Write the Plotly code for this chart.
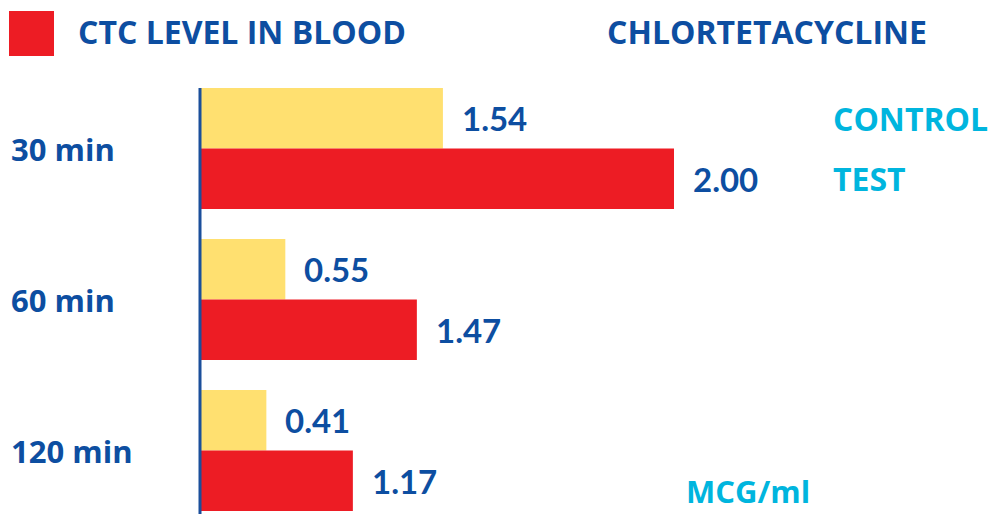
import plotly.graph_objects as go

# ---- data ----
times = ["30 min", "60 min", "120 min"]
control_values = [1.54, 0.55, 0.41]          # printed values (MCG/ml)
test_values = [2.00, 1.47, 1.17]
# drawn bar lengths as they appear in the picture (same units, 2.00 test bar as reference)
control_bar_len = [1.025, 0.36, 0.28]
test_bar_len = [2.00, 0.915, 0.645]
series_names = ["CONTROL", "TEST"]
title_left = "CTC LEVEL IN BLOOD"
title_right = "CHLORTETACYCLINE"
unit_label = "MCG/ml"

# ---- style ----
W, H = 991, 514
DARK = "#0D4EA1"
CYAN = "#00B5DE"
RED = "#ED1C24"
YELLOW = "#FFE070"
NUM_FONT = "Lato"
TXT_FONT = "Open Sans"

fig = go.Figure()
fig.add_trace(go.Bar(y=times, x=control_bar_len, orientation="h", name=series_names[0],
                     marker=dict(color=YELLOW, line=dict(width=0)), hoverinfo="skip"))
fig.add_trace(go.Bar(y=times, x=test_bar_len, orientation="h", name=series_names[1],
                     marker=dict(color=RED, line=dict(width=0)), hoverinfo="skip"))

px_per_unit = 237.0
x0_px = 200.0
center_px = 148.5
px_per_cat = 151.0

def py(p):
    return 1 - p / H

annotations = []
# value labels
for i, t in enumerate(times):
    annotations.append(dict(x=control_bar_len[i], y=i - 0.2, xref="x", yref="y",
                            text=f"{control_values[i]:.2f}", showarrow=False,
                            xanchor="left", yanchor="middle", xshift=17,
                            font=dict(family=NUM_FONT, size=33, color=DARK, weight="bold")))
    annotations.append(dict(x=test_bar_len[i], y=i + 0.2, xref="x", yref="y",
                            text=f"{test_values[i]:.2f}", showarrow=False,
                            xanchor="left", yanchor="middle", xshift=17,
                            font=dict(family=NUM_FONT, size=33, color=DARK, weight="bold")))
    annotations.append(dict(x=9 / W, y=i, xref="paper", yref="y", text=t, showarrow=False,
                            xanchor="left", yanchor="middle",
                            font=dict(family=TXT_FONT, size=31, color=DARK, weight="bold")))

# series names at right
annotations.append(dict(x=831 / W, y=0 - 0.2, xref="paper", yref="y", text=series_names[0],
                        showarrow=False, xanchor="left", yanchor="middle",
                        font=dict(family=TXT_FONT, size=32, color=CYAN, weight="bold")))
annotations.append(dict(x=831 / W, y=0 + 0.2, xref="paper", yref="y", text=series_names[1],
                        showarrow=False, xanchor="left", yanchor="middle",
                        font=dict(family=TXT_FONT, size=32, color=CYAN, weight="bold")))
annotations.append(dict(x=684 / W, y=0, xref="paper", yref="paper", text=unit_label,
                        showarrow=False, xanchor="left", yanchor="bottom",
                        font=dict(family=TXT_FONT, size=31, color=CYAN, weight="bold")))
# titles
annotations.append(dict(x=76 / W, y=py(31), xref="paper", yref="paper", text=title_left,
                        showarrow=False, xanchor="left", yanchor="middle",
                        font=dict(family=TXT_FONT, size=32, color=DARK, weight="bold")))
annotations.append(dict(x=605 / W, y=py(31), xref="paper", yref="paper", text=title_right,
                        showarrow=False, xanchor="left", yanchor="middle",
                        font=dict(family=TXT_FONT, size=32, color=DARK, weight="bold")))

shapes = [
    # legend swatch for TEST series
    dict(type="rect", xref="paper", yref="paper", x0=9 / W, x1=54 / W, y0=py(56), y1=py(11),
         fillcolor=RED, line=dict(width=0)),
    # vertical axis line at x = 0
    dict(type="line", xref="x", yref="y", x0=0, x1=0, y0=-0.4, y1=2.6,
         line=dict(color="#1B4F9B", width=3)),
]

fig.update_layout(
    width=W, height=H, autosize=False,
    margin=dict(l=0, r=0, t=0, b=0, pad=0),
    paper_bgcolor="white", plot_bgcolor="white",
    barmode="group", bargap=0.2, bargroupgap=0.0,
    showlegend=False,
    annotations=annotations, shapes=shapes,
    xaxis=dict(range=[-x0_px / px_per_unit, (W - x0_px) / px_per_unit],
               visible=False, fixedrange=True),
    yaxis=dict(type="category", categoryorder="array", categoryarray=times,
               range=[(H - center_px) / px_per_cat, -center_px / px_per_cat],
               visible=False, fixedrange=True),
)

fig.write_html("out.html", config={"displayModeBar": False},
               post_script="document.body.style.margin='0';document.body.style.overflow='hidden';")
